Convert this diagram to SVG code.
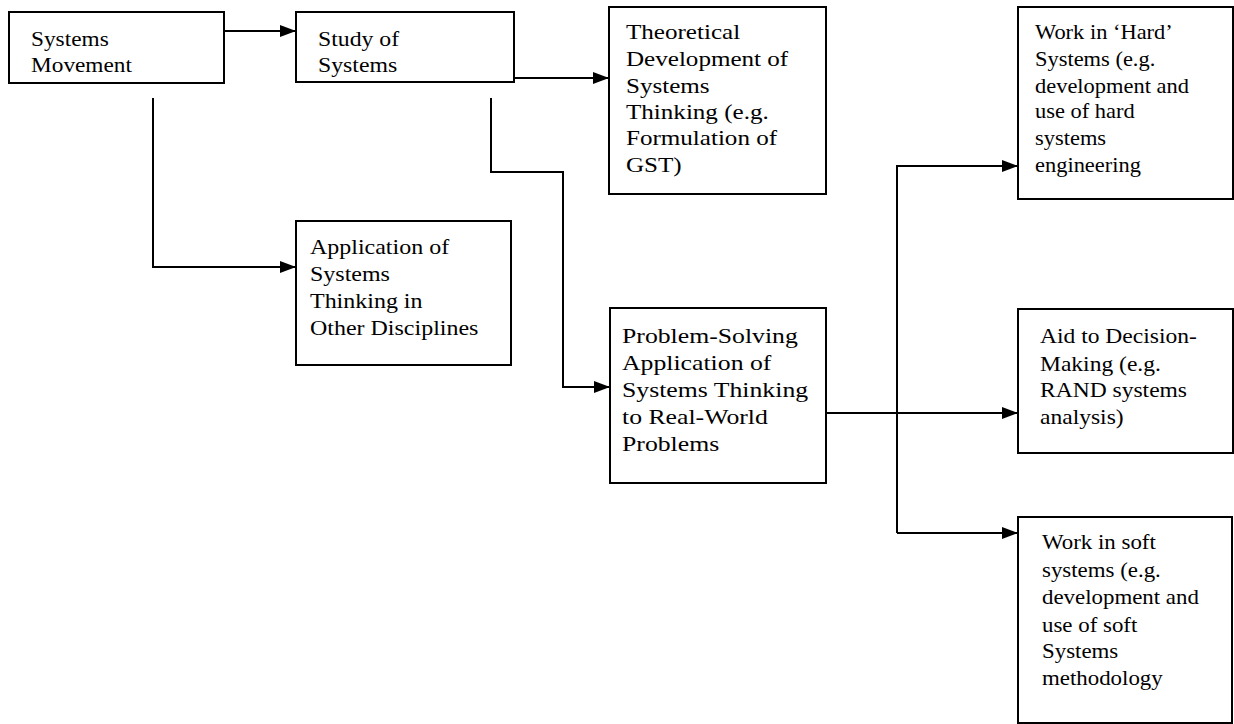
<svg xmlns="http://www.w3.org/2000/svg" width="1234" height="724" viewBox="0 0 1234 724">
<defs>
<marker id="ah" markerUnits="userSpaceOnUse" markerWidth="16" markerHeight="12" refX="16" refY="6" orient="auto">
<path d="M0,0 L16,6 L0,12 Z" fill="#000"/>
</marker>
<style>
.box{fill:#fff;stroke:#000;stroke-width:2}
.t{font-family:"Liberation Serif","Times New Roman",serif;font-size:22px;fill:#000}
.c{fill:none;stroke:#000;stroke-width:2}
</style>
</defs>
<rect width="1234" height="724" fill="#fff"/>
<g id="connectors">
<path class="c" d="M224,31 H296" marker-end="url(#ah)"/>
<path class="c" d="M153,98 V267 H296" marker-end="url(#ah)"/>
<path class="c" d="M514,78 H609" marker-end="url(#ah)"/>
<path class="c" d="M491,98 V172 H563 V387 H610" marker-end="url(#ah)"/>
<path class="c" d="M826,413 H1018" marker-end="url(#ah)"/>
<path class="c" d="M897,533 V166 H1018" marker-end="url(#ah)"/>
<path class="c" d="M897,533 H1018" marker-end="url(#ah)"/>
</g>
<g id="systems-movement">
<rect class="box" x="9" y="12" width="215" height="71"/>
<text class="t" transform="translate(31,0) scale(1.06,1)"><tspan x="0" y="46">Systems</tspan><tspan x="0" y="72">Movement</tspan></text>
</g>
<g id="study-of-systems">
<rect class="box" x="296" y="12" width="218" height="70"/>
<text class="t" transform="translate(318,0) scale(1.08,1)"><tspan x="0" y="46">Study of</tspan><tspan x="0" y="72">Systems</tspan></text>
</g>
<g id="theoretical">
<rect class="box" x="609" y="7" width="217" height="187"/>
<text class="t" transform="translate(626,0) scale(1.14,1)"><tspan x="0" y="39">Theoretical</tspan><tspan x="0" y="66">Development of</tspan><tspan x="0" y="93">Systems</tspan><tspan x="0" y="119">Thinking (e.g.</tspan><tspan x="0" y="145">Formulation of</tspan><tspan x="0" y="172">GST)</tspan></text>
</g>
<g id="application">
<rect class="box" x="296" y="221" width="215" height="144"/>
<text class="t" transform="translate(310,0) scale(1.09,1)"><tspan x="0" y="254">Application of</tspan><tspan x="0" y="281">Systems</tspan><tspan x="0" y="308">Thinking in</tspan><tspan x="0" y="335">Other Disciplines</tspan></text>
</g>
<g id="problem-solving">
<rect class="box" x="610" y="308" width="216" height="175"/>
<text class="t" transform="translate(622,0) scale(1.17,1)"><tspan x="0" y="343">Problem-Solving</tspan><tspan x="0" y="370">Application of</tspan><tspan x="0" y="397">Systems Thinking</tspan><tspan x="0" y="424">to Real-World</tspan><tspan x="0" y="451">Problems</tspan></text>
</g>
<g id="hard-systems">
<rect class="box" x="1018" y="7" width="215" height="192"/>
<text class="t" transform="translate(1035,0) scale(1.02,1)"><tspan x="0" y="39">Work in ‘Hard’</tspan><tspan x="0" y="66">Systems (e.g.</tspan><tspan x="0" y="93">development and</tspan><tspan x="0" y="118">use of hard</tspan><tspan x="0" y="145">systems</tspan><tspan x="0" y="172">engineering</tspan></text>
</g>
<g id="aid-decision">
<rect class="box" x="1018" y="309" width="215" height="144"/>
<text class="t" transform="translate(1040,0) scale(1.07,1)"><tspan x="0" y="343">Aid to Decision-</tspan><tspan x="0" y="371">Making (e.g.</tspan><tspan x="0" y="397">RAND systems</tspan><tspan x="0" y="424">analysis)</tspan></text>
</g>
<g id="soft-systems">
<rect class="box" x="1018" y="517" width="214" height="206"/>
<text class="t" transform="translate(1042,0) scale(1.04,1)"><tspan x="0" y="549">Work in soft</tspan><tspan x="0" y="577">systems (e.g.</tspan><tspan x="0" y="604">development and</tspan><tspan x="0" y="632">use of soft</tspan><tspan x="0" y="658">Systems</tspan><tspan x="0" y="685">methodology</tspan></text>
</g>
</svg>
